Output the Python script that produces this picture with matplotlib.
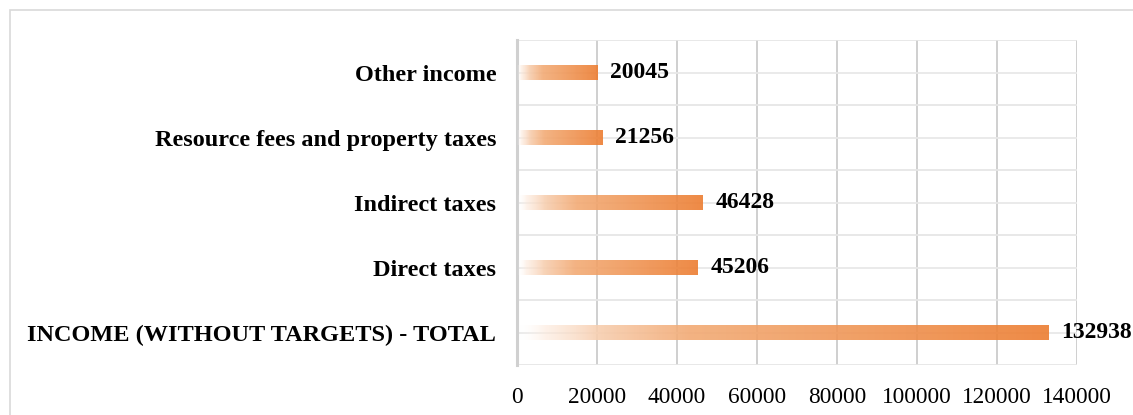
import matplotlib
matplotlib.use("Agg")
import matplotlib.pyplot as plt
import numpy as np
from matplotlib.colors import LinearSegmentedColormap
from matplotlib.patches import Rectangle

categories = ["INCOME (WITHOUT TARGETS) - TOTAL", "Direct taxes", "Indirect taxes",
              "Resource fees and property taxes", "Other income"]
values = [132938, 45206, 46428, 21256, 20045]
xticks = [0, 20000, 40000, 60000, 80000, 100000, 120000, 140000]

plt.rcParams['font.family'] = ['Liberation Serif', 'DejaVu Serif']

W, H = 1133, 415
fig = plt.figure(figsize=(W / 100, H / 100), dpi=100)
fig.add_artist(Rectangle((10 / W, -0.2), 1.5, 1.2 - 10 / H, transform=fig.transFigure,
                         facecolor='none', edgecolor='#d9d9d9', lw=1.2))

ax = fig.add_axes([517 / W, 1 - 365 / H, (1077 - 517) / W, (365 - 40) / H])

cmap = LinearSegmentedColormap.from_list(
    "grad", [(0.0, (1, 1, 1, 0)), (0.05, (0.99, 0.92, 0.87, 0.7)), (0.15, (0.97, 0.81, 0.69, 1.0)),
             (0.32, (0.95, 0.67, 0.46, 1.0)), (1.0, (0.929, 0.490, 0.192, 1.0))])

ypos = np.arange(len(categories))
bars = ax.barh(ypos, values, height=0.23, facecolor='none', edgecolor='none', zorder=3)
grad = np.linspace(0, 1, 256).reshape(1, -1)
for b, v in zip(bars, values):
    y0 = b.get_y()
    im = ax.imshow(grad, cmap=cmap, aspect='auto', extent=(0, v, y0, y0 + b.get_height()),
                   zorder=3, interpolation='bilinear', alpha=0.9)
    im.set_clip_path(b)
    ax.text(v + 3200, b.get_y() + b.get_height() / 2, f"{v}", va='center', ha='left',
            fontsize=17, fontweight='bold', color='black', zorder=4, clip_on=False)

ax.set_xlim(0, 140000)
ax.set_ylim(-0.5, len(categories) - 0.5)
ax.set_xticks(xticks)
ax.set_xticklabels([str(t) for t in xticks], fontsize=16.8)
ax.set_yticks(ypos)
ax.set_yticklabels(categories, fontsize=17.5, fontweight='bold')
ax.set_yticks(np.arange(-0.5, len(categories), 1.0), minor=True)
ax.tick_params(axis='both', length=0, which='both')
ax.tick_params(axis='y', pad=15)
ax.tick_params(axis='x', pad=16)

ax.grid(axis='x', color='#cccccc', lw=1.3, zorder=0)
ax.grid(axis='y', which='major', color='#e8e8e8', lw=1.3, zorder=0)
ax.grid(axis='y', which='minor', color='#e6e6e6', lw=1.3, zorder=0)
for s in ['top', 'right', 'bottom']:
    ax.spines[s].set_visible(False)
ax.spines['left'].set_color('#d0d0d0')
ax.spines['left'].set_linewidth(2.2)
ax.set_axisbelow(True)

fig.savefig("out.png", dpi=100)
